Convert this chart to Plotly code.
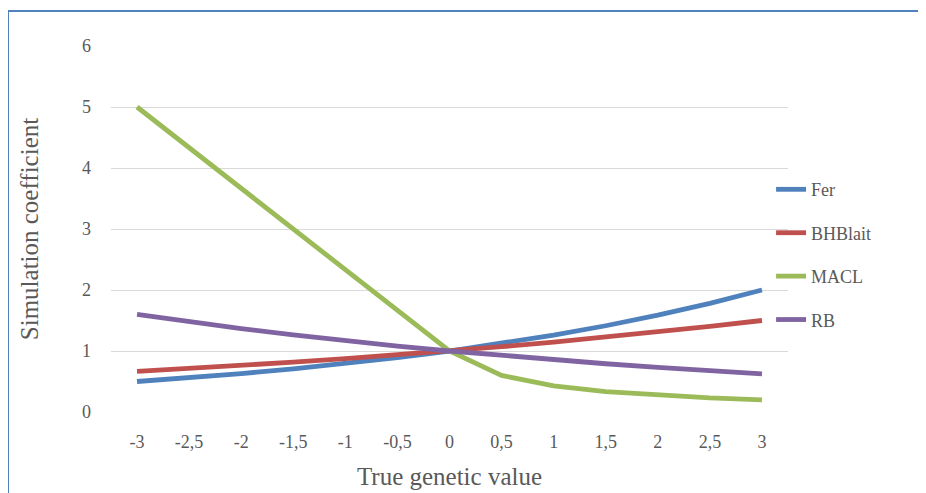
import plotly.graph_objects as go

x_vals = [-3, -2.5, -2, -1.5, -1, -0.5, 0, 0.5, 1, 1.5, 2, 2.5, 3]
x_labels = ["-3", "-2,5", "-2", "-1,5", "-1", "-0,5", "0", "0,5", "1", "1,5", "2", "2,5", "3"]

fer = [0.5, 0.561, 0.63, 0.707, 0.794, 0.891, 1.0, 1.122, 1.26, 1.414, 1.587, 1.782, 2.0]
bhblait = [0.667, 0.713, 0.763, 0.816, 0.874, 0.935, 1.0, 1.07, 1.145, 1.225, 1.31, 1.402, 1.5]
macl = [5.0, 4.333, 3.667, 3.0, 2.333, 1.667, 1.0, 0.6, 0.43, 0.333, 0.273, 0.231, 0.2]
rb = [1.6, 1.48, 1.368, 1.265, 1.17, 1.081, 1.0, 0.925, 0.855, 0.791, 0.731, 0.676, 0.625]

series = [("Fer", fer, "#4F81BD"), ("BHBlait", bhblait, "#C0504D"),
          ("MACL", macl, "#9BBB59"), ("RB", rb, "#8064A2")]

FONT = "Liberation Serif"
GREY = "#595959"

# page body has an 8px offset; target pixel positions are shifted accordingly
OFF = 8
px_left, px_right, px_top, px_bot = 111 - OFF, 788 - OFF, 46 - OFF, 412 - OFF
W, H = 926, 493

fig = go.Figure()
for i, (name, vals, col) in enumerate(series):
    fig.add_trace(go.Scatter(x=x_vals, y=vals, name=name, mode="lines",
                             line=dict(color=col, width=4.8),
                             legendgroup=f"g{i}"))

fig.update_layout(
    width=W, height=H,
    margin=dict(l=px_left, r=W - px_right, t=px_top, b=H - px_bot),
    paper_bgcolor="white", plot_bgcolor="white",
    font=dict(family=FONT, color=GREY, size=18),
    showlegend=True,
    legend=dict(x=0.975, y=0.43, xanchor="left", yanchor="middle",
                font=dict(family=FONT, size=18, color=GREY),
                tracegroupgap=17, bgcolor="rgba(0,0,0,0)"),
    xaxis=dict(range=[-3.25, 3.25], tickvals=x_vals, ticktext=x_labels,
               showgrid=False, zeroline=False, showline=False,
               ticks="", ticklabelstandoff=17,
               tickfont=dict(family=FONT, size=18, color=GREY),
               title=dict(text="True genetic value", standoff=16,
                          font=dict(family=FONT, size=25, color=GREY))),
    yaxis=dict(range=[0, 6], tickvals=[0, 1, 2, 3, 4, 5, 6],
               showgrid=True, gridcolor="#D9D9D9", gridwidth=1,
               zeroline=False, showline=False, ticks="",
               ticklabelstandoff=19,
               tickfont=dict(family=FONT, size=18, color=GREY),
               title=dict(text="Simulation coefficient", standoff=36,
                          font=dict(family=FONT, size=25, color=GREY))),
)

def px2x(p):
    return (p - px_left) / (px_right - px_left)
def py2y(p):
    return (px_bot - p) / (px_bot - px_top)

# chart-area border (top and left edges visible)
fig.add_shape(type="line", xref="paper", yref="paper",
              x0=px2x(0), x1=px2x(W + 5), y0=py2y(3), y1=py2y(3),
              line=dict(color="#4F81BD", width=2))
fig.add_shape(type="line", xref="paper", yref="paper",
              x0=px2x(0), x1=px2x(0), y0=py2y(3), y1=py2y(H + 5),
              line=dict(color="#4F81BD", width=2))

fig.write_html("out.html")
